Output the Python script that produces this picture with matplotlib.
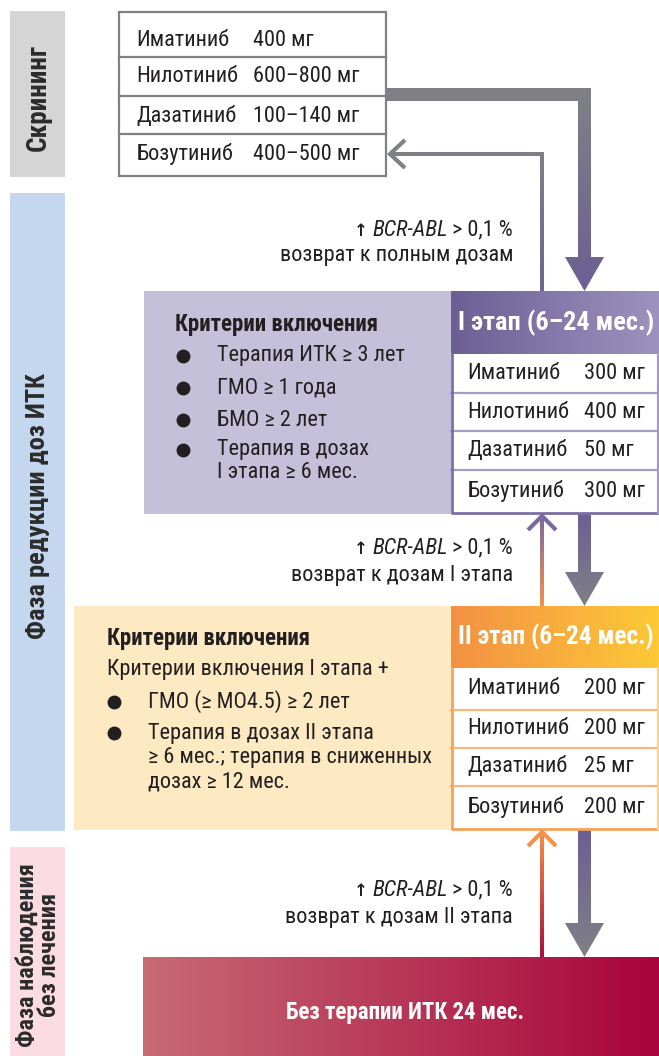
import matplotlib
matplotlib.use('Agg')
import matplotlib.pyplot as plt
import numpy as np
from matplotlib import font_manager as fm
from matplotlib.patches import Rectangle, Polygon
from matplotlib.colors import to_rgb

# ---------------- data ----------------
drugs = ['Иматиниб', 'Нилотиниб', 'Дазатиниб', 'Бозутиниб']
screen_doses = ['400 мг', '600–800 мг', '100–140 мг', '400–500 мг']
stage1_doses = ['300 мг', '400 мг', '50 мг', '300 мг']
stage2_doses = ['200 мг', '200 мг', '25 мг', '200 мг']
stage_titles = ['I этап (6–24 мес.)', 'II этап (6–24 мес.)']
criteria_title = 'Критерии включения'
stage1_criteria = ['Терапия ИТК ≥ 3 лет', 'ГМО ≥ 1 года', 'БМО ≥ 2 лет',
                   'Терапия в дозах\nI этапа ≥ 6 мес.']
stage2_intro = 'Критерии включения I этапа +'
stage2_criteria = ['ГМО (≥ МО4.5) ≥ 2 лет',
                   'Терапия в дозах II этапа\n≥ 6 мес.; терапия в сниженных\nдозах ≥ 12 мес.']
marker_name = 'BCR-ABL'
threshold = '> 0,1 %'
return_labels = ['возврат к полным дозам', 'возврат к дозам I этапа',
                 'возврат к дозам II этапа']
phase_labels = ['Скрининг', 'Фаза редукции доз ИТК', 'Фаза наблюдения\nбез лечения']
final_label = 'Без терапии ИТК 24 мес.'

# ---------------- fonts ----------------
names = {f.name for f in fm.fontManager.ttflist}
FONT = 'DejaVu Sans'
for cand in ['Roboto Condensed', 'Liberation Sans Narrow', 'Roboto']:
    if cand in names:
        FONT = cand
        break
FAM = [FONT, 'DejaVu Sans']
plt.rcParams['font.family'] = FAM

TXT = '#231f20'
GRAY = '#808185'
PURPLE = '#6b5f94'
FS = 16

W, H = 659, 1056
fig = plt.figure(figsize=(W / 100, H / 100), dpi=100)
ax = fig.add_axes([0, 0, 1, 1])
ax.axis('off')
renderer = fig.canvas.get_renderer()


def gradient(x0, y0, x1, y1, c0, c1, direction='h', clip=None, z=1):
    t = np.linspace(0, 1, 256)
    a = np.array(to_rgb(c0))
    b = np.array(to_rgb(c1))
    cols = a[None, :] * (1 - t[:, None]) + b[None, :] * t[:, None]
    img = cols[None, :, :] if direction == 'h' else cols[:, None, :]
    im = ax.imshow(img, extent=(x0, x1, y1, y0), origin='upper',
                   aspect='auto', interpolation='bilinear', zorder=z)
    if clip is not None:
        patch = Polygon(clip, closed=True, transform=ax.transData)
        im.set_clip_path(patch)
    return im


def rect(x0, y0, x1, y1, fc, ec='none', lw=0, z=1):
    ax.add_patch(Rectangle((x0, y0), x1 - x0, y1 - y0, facecolor=fc,
                           edgecolor=ec, linewidth=lw, zorder=z))


# ---------------- sidebars ----------------
rect(10, 11, 65, 177, '#d5d5d6')
rect(10, 193, 65, 831, '#c4d7ee')
rect(10, 847, 65, 1056, '#fbdce3')
side_y = [98, 506, 955]
side_fs = [19.5, 19, 17.5]
for lab, yy, fs in zip(phase_labels, side_y, side_fs):
    ax.text(38, yy, lab, rotation=90, ha='center', va='center', fontsize=fs,
            fontweight='bold', color='#2b2b2b', linespacing=0.95, zorder=5)

# ---------------- screening table ----------------
rect(119, 12, 386, 176, 'white', GRAY, 1.6, z=3)
for ys in [57, 96, 134]:
    ax.plot([119, 386], [ys, ys], color=GRAY, lw=1.6, zorder=4)
screen_y = [40, 77, 116, 154]
for d, dose, yy in zip(drugs, screen_doses, screen_y):
    ax.text(136, yy, d, ha='left', va='center', fontsize=FS, color=TXT, zorder=5)
    ax.text(253, yy, dose, ha='left', va='center', fontsize=FS, color=TXT, zorder=5)

# ---------------- stage I ----------------
rect(144, 291, 451, 514, '#c5c0da')
gradient(451, 291, 659, 354, '#6b5f94', '#9d93be', 'h')
rect(451, 354, 659, 514, 'white', z=2)
row1 = [354, 393, 431, 470, 513]
for ys in row1[1:-1]:
    ax.plot([451, 659], [ys, ys], color='#a59cc4', lw=1.6, zorder=4)
ax.plot([451.5, 451.5, 659], [354, 513, 513], color='#7b6fa3', lw=2, zorder=4)
ax.plot([657.5, 657.5], [354, 513], color='#a59cc4', lw=1.6, zorder=4)
ax.text(556, 323, stage_titles[0], ha='center', va='center', fontsize=19,
        fontweight='bold', color='white', zorder=5)
for i, (d, dose) in enumerate(zip(drugs, stage1_doses)):
    yy = (row1[i] + row1[i + 1]) / 2
    ax.text(467, yy, d, ha='left', va='center', fontsize=FS, color=TXT, zorder=5)
    ax.text(584, yy, dose, ha='left', va='center', fontsize=FS, color=TXT, zorder=5)

ax.text(175, 324, criteria_title, ha='left', va='center', fontsize=16.5,
        fontweight='bold', color=TXT, zorder=5)
c1_y = [356, 388, 420, 450]
for item, yy in zip(stage1_criteria, c1_y):
    ax.plot(183, yy, 'o', ms=9, color=TXT, zorder=5)
    for k, line in enumerate(item.split('\n')):
        ax.text(217, yy + 23 * k, line, ha='left', va='center', fontsize=FS,
                color=TXT, zorder=5)

# ---------------- stage II ----------------
rect(74, 606, 451, 830, '#fdeac3')
gradient(451, 606, 659, 668, '#f39143', '#fdc937', 'h')
rect(451, 668, 659, 829, 'white', z=2)
row2 = [668, 710, 748, 786, 829]
for ys in row2[1:-1]:
    ax.plot([451, 659], [ys, ys], color='#f7b77e', lw=1.6, zorder=4)
ax.plot([451.5, 451.5, 659], [668, 829, 829], color='#f4a35c', lw=2, zorder=4)
ax.plot([657.5, 657.5], [668, 829], color='#fcd48a', lw=1.6, zorder=4)
ax.text(556, 637, stage_titles[1], ha='center', va='center', fontsize=18.3,
        fontweight='bold', color='white', zorder=5)
for i, (d, dose) in enumerate(zip(drugs, stage2_doses)):
    yy = (row2[i] + row2[i + 1]) / 2
    ax.text(467, yy, d, ha='left', va='center', fontsize=FS, color=TXT, zorder=5)
    ax.text(584, yy, dose, ha='left', va='center', fontsize=FS, color=TXT, zorder=5)

ax.text(107, 638, criteria_title, ha='left', va='center', fontsize=16.5,
        fontweight='bold', color=TXT, zorder=5)
ax.text(107, 670, stage2_intro, ha='left', va='center', fontsize=FS,
        color=TXT, zorder=5)
c2_y = [702, 733]
for item, yy in zip(stage2_criteria, c2_y):
    ax.plot(114, yy, 'o', ms=9, color=TXT, zorder=5)
    for k, line in enumerate(item.split('\n')):
        ax.text(148, yy + 24.5 * k, line, ha='left', va='center', fontsize=FS,
                color=TXT, zorder=5)

# ---------------- final box ----------------
gradient(143, 957, 659, 1056, '#c76b74', '#a8033c', 'h')
ax.text(405, 1012, final_label, ha='center', va='center', fontsize=16.5,
        fontweight='bold', color='white', zorder=5)

# ---------------- arrows ----------------
# thick arrow: screening -> stage I
a1 = [(386, 88), (591, 88), (591, 257), (604, 257), (584.5, 291), (565, 257),
      (578, 257), (578, 101), (386, 101)]
gradient(386, 88, 604, 291, GRAY, PURPLE, 'v', clip=a1, z=3)

# thin return arrow: stage I -> screening
ret = [(392, 152), (544, 152), (544, 291), (540, 291), (540, 156), (392, 156)]
gradient(392, 152, 544, 291, GRAY, '#6e6497', 'v', clip=ret, z=3)
ax.plot([405, 390, 405], [140, 154, 168], color=GRAY, lw=3, zorder=4,
        solid_joinstyle='miter', solid_capstyle='butt')


def thick_down(y0, y1):
    pts = [(578, y0), (591, y0), (591, y1 - 34), (604, y1 - 34), (584.5, y1),
           (565, y1 - 34), (578, y1 - 34)]
    gradient(565, y0, 604, y1, PURPLE, GRAY, 'v', clip=pts, z=3)


def thin_up(y_top, y_bot, c_top, c_bot):
    pts = [(540, y_top + 2), (544, y_top + 2), (544, y_bot), (540, y_bot)]
    gradient(540, y_top, 544, y_bot, c_top, c_bot, 'v', clip=pts, z=3)
    ax.plot([528, 542, 556], [y_top + 15, y_top + 1, y_top + 15], color=c_top,
            lw=3, zorder=4, solid_joinstyle='miter', solid_capstyle='butt')


thick_down(514, 606)
thin_up(515, 606, '#7a6a9e', '#f4914a')
thick_down(830, 957)
thin_up(831, 957, '#f4914a', '#a8103e')


# ---------------- return annotations ----------------
def annotation(y1, y2, label):
    x = 513
    t = ax.text(x, y1, threshold, ha='right', va='center', fontsize=FS,
                color=TXT, zorder=5)
    x -= t.get_window_extent(renderer).width + 4
    t = ax.text(x, y1, marker_name, ha='right', va='center', fontsize=FS,
                style='italic', color=TXT, zorder=5)
    x -= t.get_window_extent(renderer).width + 5
    ax.text(x, y1 + 1, '↑', ha='right', va='center', fontsize=12,
            fontweight='bold', family='DejaVu Sans', color=TXT, zorder=5)
    ax.text(513, y2, label, ha='right', va='center', fontsize=FS,
            color=TXT, zorder=5)


annotation(230, 256, return_labels[0])
annotation(548, 576, return_labels[1])
annotation(890, 917, return_labels[2])

ax.set_xlim(0, W)
ax.set_ylim(H, 0)
fig.savefig('out.png', dpi=100)
